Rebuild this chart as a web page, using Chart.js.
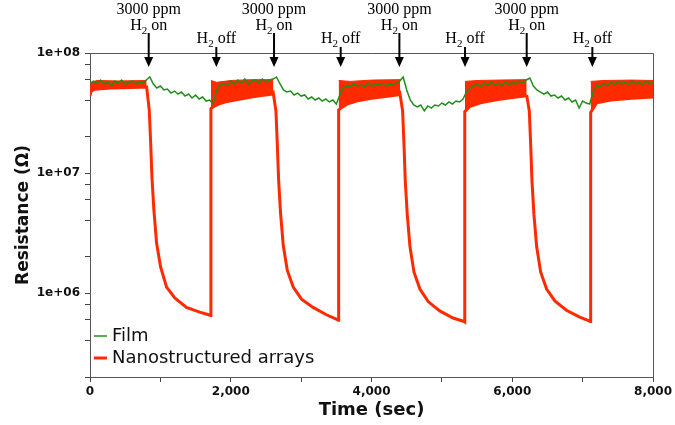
<!DOCTYPE html>
<html>
<head>
<meta charset="utf-8">
<script src="https://cdn.jsdelivr.net/npm/chart.js@4.4.0/dist/chart.umd.min.js"></script>
<style>
  body { margin: 0; background: #fff; }
</style>
</head>
<body>
<canvas id="chart" width="675" height="425"></canvas>
<script>
// Film: one reading every 50 s from 0 to 8000 s (ohm)
const filmStep = 50;
const filmOhm = [
  5.52e7, 5.84e7, 5.62e7, 5.96e7, 5.52e7, 5.73e7, 5.31e7, 5.84e7, 5.62e7, 5.96e7,
  5.52e7, 5.73e7, 5.84e7, 5.52e7, 5.73e7, 5.62e7, 5.96e7, 6.31e7, 5.52e7, 5.11e7,
  5.31e7, 4.92e7, 5.01e7, 4.64e7, 4.82e7, 4.55e7, 4.73e7, 4.38e7, 4.55e7, 4.22e7,
  4.47e7, 4.14e7, 4.30e7, 3.98e7, 4.06e7, 3.76e7, 4.92e7, 5.41e7, 5.62e7, 5.31e7,
  5.84e7, 5.52e7, 5.96e7, 5.62e7, 6.07e7, 5.52e7, 5.84e7, 5.96e7, 5.62e7, 6.07e7,
  5.73e7, 5.96e7, 6.07e7, 6.31e7, 5.52e7, 4.92e7, 4.73e7, 4.82e7, 4.47e7, 4.64e7,
  4.38e7, 4.47e7, 4.14e7, 4.30e7, 4.06e7, 4.22e7, 3.98e7, 4.14e7, 3.91e7, 4.06e7,
  3.76e7, 4.47e7, 5.11e7, 5.31e7, 5.21e7, 5.52e7, 5.31e7, 5.41e7, 5.21e7, 5.62e7,
  5.31e7, 5.52e7, 5.41e7, 5.62e7, 5.31e7, 5.52e7, 5.41e7, 5.62e7, 5.84e7, 6.31e7,
  4.92e7, 4.06e7, 3.69e7, 3.55e7, 3.69e7, 3.29e7, 3.62e7, 3.48e7, 3.69e7, 3.62e7,
  3.83e7, 3.69e7, 3.91e7, 3.76e7, 3.98e7, 3.91e7, 4.14e7, 4.73e7, 5.11e7, 5.31e7,
  5.52e7, 5.21e7, 5.62e7, 5.31e7, 5.73e7, 5.41e7, 5.62e7, 5.31e7, 5.73e7, 5.41e7,
  5.73e7, 5.52e7, 5.84e7, 5.62e7, 5.96e7, 6.19e7, 5.31e7, 4.92e7, 4.73e7, 4.55e7,
  4.73e7, 4.38e7, 4.47e7, 4.22e7, 4.38e7, 4.06e7, 4.22e7, 3.91e7, 4.06e7, 3.48e7,
  3.98e7, 3.83e7, 3.76e7, 4.73e7, 5.41e7, 5.21e7, 5.62e7, 5.31e7, 5.73e7, 5.41e7,
  5.84e7, 5.52e7, 5.73e7, 5.41e7, 5.84e7, 5.52e7, 5.73e7, 5.41e7, 5.84e7, 5.52e7,
  5.73e7
];

// Nanostructured arrays: lower edge of the trace (s, ohm)
const arrayTime = [
  0, 15, 60, 300, 600, 805,
  842, 862, 880, 908, 946, 1003, 1088, 1205, 1370, 1559, 1685, 1712,
  1718, 1760, 1850, 1950, 2100, 2250, 2400, 2600,
  2605, 2642, 2662, 2680, 2708, 2746, 2803, 2888, 3005, 3170, 3359, 3515, 3527,
  3533, 3570, 3650, 3800, 4000, 4200, 4400,
  4405, 4442, 4462, 4480, 4508, 4546, 4603, 4688, 4805, 4970, 5159, 5315, 5322,
  5328, 5400, 5550, 5750, 6000, 6200,
  6205, 6242, 6262, 6280, 6308, 6346, 6403, 6488, 6605, 6770, 6959, 7100, 7108,
  7114, 7200, 7400, 7700, 8000
];
const arrayOhm = [
  4.4e7, 4.8e7, 5.0e7, 5.1e7, 5.15e7, 5.2e7,
  3.35e7, 1.78e7, 9.3e6, 4.9e6, 2.61e6, 1.65e6, 1.12e6, 9.1e5, 7.6e5, 6.95e5, 6.6e5, 6.5e5,
  3.45e7, 3.6e7, 3.8e7, 3.95e7, 4.1e7, 4.25e7, 4.4e7, 4.55e7,
  4.6e7, 3.3e7, 1.7e7, 8.8e6, 4.6e6, 2.5e6, 1.55e6, 1.12e6, 8.9e5, 7.6e5, 6.6e5, 6.0e5, 5.95e5,
  3.35e7, 3.5e7, 3.75e7, 4.0e7, 4.2e7, 4.35e7, 4.5e7,
  4.55e7, 3.3e7, 1.7e7, 8.5e6, 4.5e6, 2.45e6, 1.5e6, 1.08e6, 8.5e5, 7.1e5, 6.2e5, 5.8e5, 5.75e5,
  3.25e7, 3.6e7, 3.85e7, 4.05e7, 4.25e7, 4.4e7,
  4.45e7, 3.3e7, 1.7e7, 8.6e6, 4.5e6, 2.45e6, 1.5e6, 1.08e6, 8.6e5, 7.2e5, 6.3e5, 5.85e5, 5.8e5,
  3.2e7, 3.85e7, 4.05e7, 4.2e7, 4.3e7
];

// Nanostructured arrays: upper edge of the noisy band while H2 is off
const bandTime = [
  0, 15, 100, 400, 805, 806,
  1718, 1800, 2000, 2300, 2605, 2606,
  3533, 3700, 4000, 4405, 4406,
  5328, 5500, 5800, 6205, 6206,
  7114, 7300, 7700, 8000
];
const bandOhm = [
  5.0e7, 5.7e7, 5.9e7, 5.85e7, 5.9e7, null,
  5.9e7, 5.7e7, 5.9e7, 6.0e7, 6.0e7, null,
  5.9e7, 5.8e7, 5.95e7, 6.0e7, null,
  5.8e7, 5.9e7, 5.95e7, 6.0e7, null,
  5.8e7, 5.9e7, 5.95e7, 5.9e7
];

// H2 switching marks (s)
const onTimes = [834, 2615, 4396, 6205];
const offTimes = [1795, 3562, 5329, 7138];
const onText = ['3000 ppm', ' on'];
const offText = ' off';

// axis ticks
const yTicks = [2e5, 4e5, 6e5, 8e5, 1e6, 2e6, 4e6, 6e6, 8e6, 1e7, 2e7, 4e7, 6e7, 8e7, 1e8];
const xTickStep = 1000;
const xLabelStep = 2000;

const green = '#1f8f1a';
const red = '#ff2a00';

function zip(xs, ys) {
    return xs.map((x, i) => ({ x: x, y: ys[i] }));
}

function h2Text(ctx, tail, cx, base) {
    const big = '16px "Liberation Serif", "Times New Roman", serif';
    const small = '11px "Liberation Serif", "Times New Roman", serif';
    ctx.font = big;
    const wH = ctx.measureText('H').width;
    const wT = ctx.measureText(tail).width;
    ctx.font = small;
    const w2 = ctx.measureText('2').width;
    const x0 = cx - (wH + w2 + wT) / 2;
    ctx.textAlign = 'left';
    ctx.textBaseline = 'alphabetic';
    ctx.font = big;
    ctx.fillText('H', x0, base);
    ctx.font = small;
    ctx.fillText('2', x0 + wH, base + 4);
    ctx.font = big;
    ctx.fillText(tail, x0 + wH + w2, base);
}

function arrow(ctx, x, y1, tip) {
    ctx.lineWidth = 2;
    ctx.beginPath();
    ctx.moveTo(x, y1);
    ctx.lineTo(x, tip - 8);
    ctx.stroke();
    ctx.beginPath();
    ctx.moveTo(x - 4.5, tip - 10);
    ctx.lineTo(x + 4.5, tip - 10);
    ctx.lineTo(x, tip);
    ctx.closePath();
    ctx.fill();
}

const annotate = {
    id: 'annotate',
    afterDraw(chart) {
        const { ctx, chartArea: a, scales: { x } } = chart;
        ctx.save();
        ctx.fillStyle = '#000';
        ctx.strokeStyle = '#000';
        onTimes.forEach(t => {
            const px = x.getPixelForValue(t);
            ctx.font = '16px "Liberation Serif", "Times New Roman", serif';
            ctx.textAlign = 'center';
            ctx.textBaseline = 'alphabetic';
            ctx.fillText(onText[0], px, a.top - 39);
            h2Text(ctx, onText[1], px, a.top - 23);
            arrow(ctx, px, a.top - 20, a.top + 14);
        });
        offTimes.forEach(t => {
            const px = x.getPixelForValue(t);
            h2Text(ctx, offText, px, a.top - 10);
            arrow(ctx, px, a.top - 6, a.top + 14);
        });
        ctx.restore();
    }
};

const frame = {
    id: 'frame',
    beforeDatasetsDraw(chart) {
        const { ctx, chartArea: a } = chart;
        ctx.save();
        ctx.strokeStyle = '#555';
        ctx.lineWidth = 1;
        ctx.beginPath();
        ctx.moveTo(a.left, a.top + 0.5);
        ctx.lineTo(a.right + 0.5, a.top + 0.5);
        ctx.lineTo(a.right + 0.5, a.bottom);
        ctx.stroke();
        ctx.restore();
    }
};

const insideLegend = {
    id: 'insideLegend',
    afterDatasetsDraw(chart) {
        const { ctx, chartArea: a } = chart;
        const items = chart.data.datasets.filter(d => d.label);
        ctx.save();
        ctx.font = '18px "DejaVu Sans", sans-serif';
        ctx.textAlign = 'left';
        ctx.textBaseline = 'middle';
        ctx.fillStyle = '#111';
        items.forEach((d, i) => {
            const y = a.bottom - 41 + i * 22;
            ctx.strokeStyle = d.borderColor;
            ctx.lineWidth = d.borderWidth;
            ctx.beginPath();
            ctx.moveTo(a.left + 4, y);
            ctx.lineTo(a.left + 17, y);
            ctx.stroke();
            ctx.fillText(d.label, a.left + 22, y);
        });
        ctx.restore();
    }
};

const ctx = document.getElementById('chart');

new Chart(ctx, {
    type: 'line',
    data: {
        datasets: [{
            label: 'Film',
            data: filmOhm.map((v, i) => ({ x: i * filmStep, y: v })),
            borderColor: green,
            borderWidth: 1.5,
            pointRadius: 0,
            fill: false
        }, {
            label: 'Nanostructured arrays',
            data: zip(arrayTime, arrayOhm),
            borderColor: red,
            borderWidth: 3,
            pointRadius: 0,
            fill: false
        }, {
            label: '',
            data: zip(bandTime, bandOhm),
            borderColor: red,
            backgroundColor: red,
            borderWidth: 1,
            pointRadius: 0,
            fill: 1
        }]
    },
    options: {
        responsive: false,
        animation: false,
        layout: {
            padding: { left: 0, top: 53, right: 19, bottom: 0 }
        },
        elements: {
            line: { tension: 0 }
        },
        scales: {
            x: {
                type: 'linear',
                min: 0,
                max: 8000,
                afterFit(scale) { scale.height = 48; },
                border: { display: true, color: '#555' },
                grid: {
                    drawOnChartArea: false,
                    tickLength: 5,
                    tickColor: '#444'
                },
                ticks: {
                    stepSize: xTickStep,
                    autoSkip: false,
                    maxRotation: 0,
                    padding: 3,
                    color: '#111',
                    font: { family: '"DejaVu Sans", sans-serif', size: 12, weight: 'bold' },
                    callback: v => (v % xLabelStep === 0 ? v.toLocaleString('en-US') : '')
                },
                title: {
                    display: true,
                    text: 'Time (sec)',
                    color: '#111',
                    padding: { top: 0, bottom: 4 },
                    font: { family: '"DejaVu Sans", sans-serif', size: 18, weight: 'bold' }
                }
            },
            y: {
                type: 'logarithmic',
                min: 2e5,
                max: 1e8,
                afterFit(scale) { scale.width = 90; },
                afterBuildTicks(scale) {
                    scale.ticks = yTicks.map(v => ({ value: v }));
                },
                border: { display: true, color: '#555' },
                grid: {
                    drawOnChartArea: false,
                    tickLength: 5,
                    tickColor: '#444'
                },
                ticks: {
                    autoSkip: false,
                    padding: 5,
                    color: '#111',
                    font: { family: '"DejaVu Sans", sans-serif', size: 12, weight: 'bold' },
                    callback: v => {
                        const e = Math.log10(v);
                        if (Math.abs(e - Math.round(e)) > 1e-9) return '';
                        return '1e+' + String(Math.round(e)).padStart(2, '0');
                    }
                },
                title: {
                    display: true,
                    text: 'Resistance (Ω)',
                    color: '#111',
                    padding: { top: 13, bottom: 0 },
                    font: { family: '"DejaVu Sans", sans-serif', size: 17, weight: 'bold' }
                }
            }
        },
        plugins: {
            legend: { display: false },
            tooltip: { enabled: false }
        }
    },
    plugins: [frame, insideLegend, annotate]
});
</script>
</body>
</html>
